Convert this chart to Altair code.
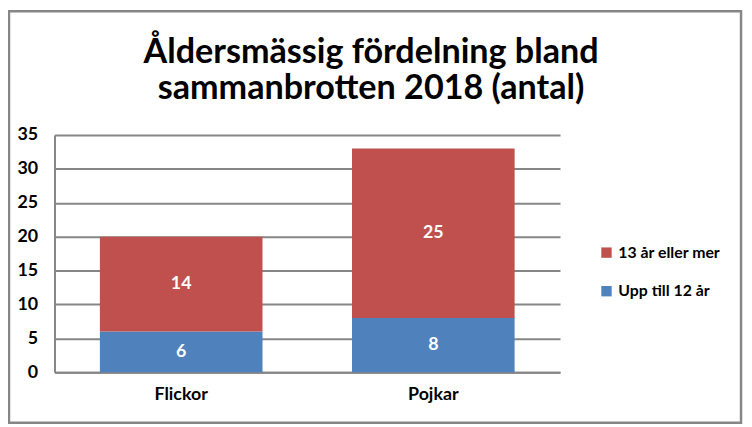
import altair as alt
import pandas as pd

categories = ["Flickor", "Pojkar"]
series = ["Upp till 12 år", "13 år eller mer"]
upp_till_12 = [6, 8]
tretton_plus = [14, 25]
y_ticks = [0, 5, 10, 15, 20, 25, 30, 35]
title_lines = ["Åldersmässig fördelning bland", "sammanbrotten 2018 (antal)"]

rows = []
for i, c in enumerate(categories):
    rows.append({"kategori": c, "grupp": series[0], "antal": upp_till_12[i], "ordning": 0})
    rows.append({"kategori": c, "grupp": series[1], "antal": tretton_plus[i], "ordning": 1})
df = pd.DataFrame(rows)

FONT = "Lato"
GRAY = "#868686"

color_scale = alt.Scale(domain=[series[1], series[0]], range=["#C0504D", "#4F81BD"])
y_scale = alt.Scale(domain=[0, 35], nice=False)
x_scale = alt.Scale(paddingInner=0.355, paddingOuter=0.18)

x_axis = alt.Axis(labelAngle=0, labelFont=FONT, labelFontSize=18, labelFontWeight="bold",
                  labelColor="black", labelPadding=13, ticks=False, grid=False,
                  domainColor=GRAY, domainWidth=2)
y_axis = alt.Axis(values=y_ticks, labelOverlap=False,
                  labelFont=FONT, labelFontSize=18,
                  labelFontWeight="bold", labelColor="black", labelPadding=17, ticks=False,
                  grid=True, domainColor=GRAY, domainWidth=2, gridColor=GRAY, gridWidth=2)

base = alt.Chart(df).transform_stack(
    stack="antal", groupby=["kategori"], as_=["y0", "y1"],
    sort=[alt.SortField("ordning", order="ascending")]
).transform_calculate(mid="(datum.y0 + datum.y1) / 2")

bars = base.mark_bar().encode(
    x=alt.X("kategori:N", sort=categories, title=None, scale=x_scale, axis=x_axis),
    y=alt.Y("y0:Q", title=None, scale=y_scale, axis=y_axis),
    y2="y1:Q",
    color=alt.Color("grupp:N", scale=color_scale, title=None,
                    legend=alt.Legend(orient="none", legendX=550, legendY=111,
                                      symbolType="square", symbolSize=110, symbolStrokeWidth=0,
                                      labelFont=FONT, labelFontSize=16, labelFontWeight="bold",
                                      labelColor="black", rowPadding=23, labelOffset=4)),
)

labels = base.mark_text(font=FONT, fontSize=18, fontWeight="bold", color="white").encode(
    x=alt.X("kategori:N", sort=categories, title=None, scale=x_scale, axis=x_axis),
    y=alt.Y("mid:Q", title=None, scale=y_scale, axis=y_axis),
    text=alt.Text("antal:Q"),
)

one = pd.DataFrame({"a": [0]})

title = alt.Chart(one).mark_text(
    text=title_lines, font=FONT, fontSize=34.5, fontWeight="bold", color="black",
    align="center", baseline="alphabetic", lineHeight=37
).encode(x=alt.value(320), y=alt.value(-73))

frame = alt.Chart(one).mark_rect(
    fill=None, stroke=GRAY, strokeWidth=2.5
).encode(x=alt.value(-46), x2=alt.value(694), y=alt.value(-125), y2=alt.value(291))

chart = alt.layer(bars, labels, title, frame).properties(
    width=511, height=240,
    autosize="none",
    padding={"left": 47, "top": 126, "right": 186, "bottom": 53},
).configure_view(stroke=None)

chart.save("out.html", embed_options={"renderer": "svg", "actions": False})
